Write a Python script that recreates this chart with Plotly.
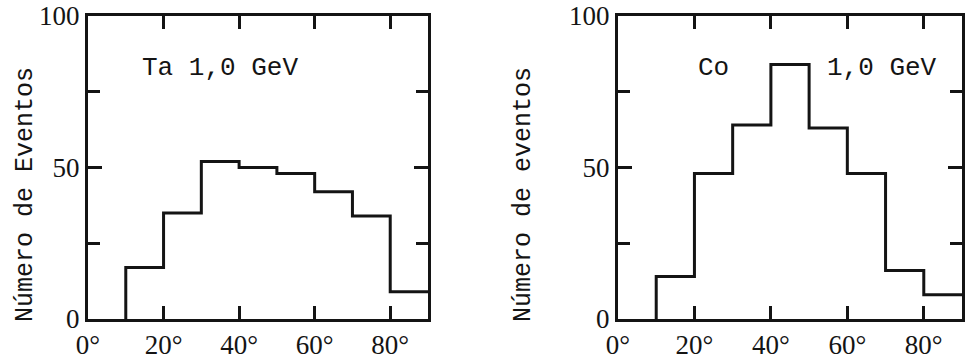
import plotly.graph_objects as go

# Angular bins (degrees) and event counts per bin
bin_edges = [10, 20, 30, 40, 50, 60, 70, 80, 90]
ta_counts = [17, 35, 52, 50, 48, 42, 34, 9]
co_counts = [14, 48, 64, 84, 63, 48, 16, 8]

x_tick_vals = [0, 20, 40, 60, 80]
x_tick_text = ["0°", "20°", "40°", "60°", "80°"]
y_tick_vals = [0, 50, 100]
y_tick_text = ["0", "50", "100"]

INK = "#141414"
MONO = "Liberation Mono, Courier New, monospace"
SERIF = "Liberation Serif, Times New Roman, serif"


def step_xy(edges, counts):
    # outline of a histogram starting from the baseline at the first edge
    xs = [edges[0]] + list(edges)
    ys = [0] + list(counts) + [counts[-1]]
    return xs, ys


fig = go.Figure()

for i, counts in enumerate([ta_counts, co_counts]):
    xs, ys = step_xy(bin_edges, counts)
    fig.add_trace(go.Scatter(
        x=xs, y=ys, mode="lines", line=dict(color=INK, width=3, shape="hv"),
        xaxis="x" if i == 0 else "x2", yaxis="y" if i == 0 else "y2",
        showlegend=False, hoverinfo="skip",
    ))

W, H = 965, 362
ydom = [1 - 319 / H, 1 - 16 / H]

common_x = dict(
    range=[0, 90], tickvals=x_tick_vals, ticktext=x_tick_text,
    showline=True, linecolor=INK, linewidth=3, mirror="ticks",
    ticks="inside", ticklen=13, tickwidth=3, tickcolor=INK,
    showgrid=False, zeroline=False, automargin=False,
    tickfont=dict(family=SERIF, size=27, color=INK),
)
common_y = dict(
    range=[0, 100], tickvals=y_tick_vals, ticktext=y_tick_text,
    showline=True, linecolor=INK, linewidth=3, mirror="ticks",
    ticks="inside", ticklen=14, tickwidth=3, tickcolor=INK,
    minor=dict(tickvals=[25, 75], ticks="inside", ticklen=12, tickwidth=3, tickcolor=INK),
    showgrid=False, zeroline=False, automargin=False,
    tickfont=dict(family=SERIF, size=27, color=INK),
)

fig.update_layout(
    width=W, height=H,
    margin=dict(l=0, r=0, t=0, b=0),
    paper_bgcolor="white", plot_bgcolor="white",
    xaxis=dict(domain=[88 / W, 428 / W], anchor="y", **common_x),
    yaxis=dict(domain=ydom, anchor="x", **common_y),
    xaxis2=dict(domain=[618 / W, 962 / W], anchor="y2", **common_x),
    yaxis2=dict(domain=ydom, anchor="x2", **common_y),
)

# y-axis titles
fig.add_annotation(x=25 / W, y=1 - 195 / H, xref="paper", yref="paper",
                   xanchor="center", yanchor="middle",
                   text="Número de Eventos", textangle=-90, showarrow=False,
                   font=dict(family=MONO, size=25, color=INK))
fig.add_annotation(x=523 / W, y=1 - 195 / H, xref="paper", yref="paper",
                   xanchor="center", yanchor="middle",
                   text="Número de eventos", textangle=-90, showarrow=False,
                   font=dict(family=MONO, size=25, color=INK))

# panel labels
fig.add_annotation(x=35, y=83, xref="x", yref="y", text="Ta 1,0 GeV",
                   showarrow=False, font=dict(family=MONO, size=26, color=INK))
fig.add_annotation(x=25, y=83, xref="x2", yref="y2", text="Co",
                   showarrow=False, font=dict(family=MONO, size=26, color=INK))
fig.add_annotation(x=69, y=83, xref="x2", yref="y2", text="1,0 GeV",
                   showarrow=False, font=dict(family=MONO, size=26, color=INK))

fig.write_html("out.html")
